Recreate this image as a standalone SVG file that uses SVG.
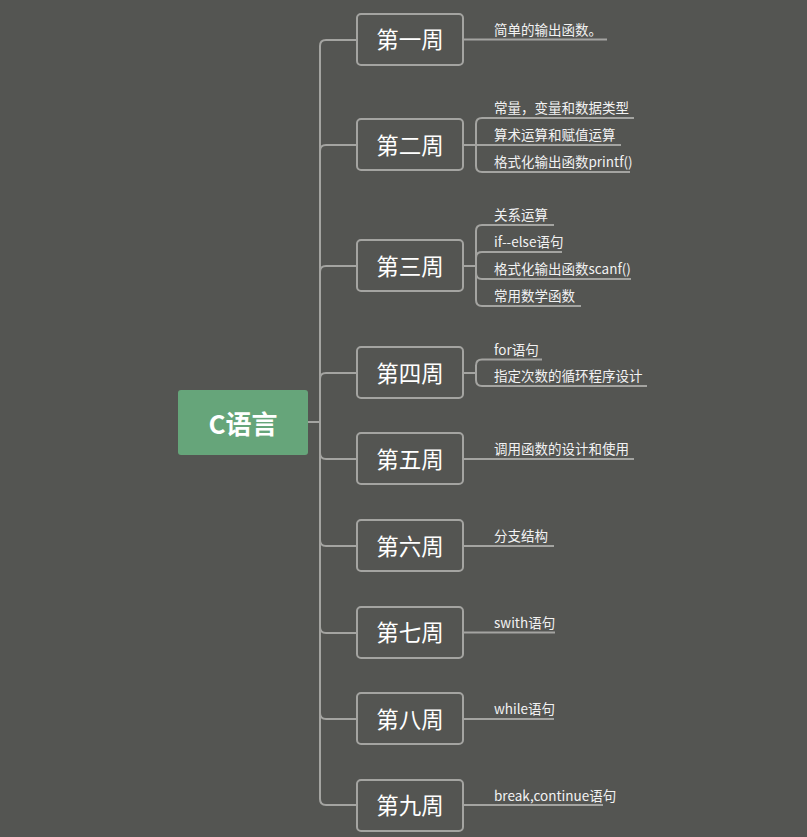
<svg xmlns="http://www.w3.org/2000/svg" width="807" height="837" viewBox="0 0 807 837">
<style>
.bg{fill:#545552}
.root rect{fill:#66a57a}
.root text{font-family:"Noto Sans CJK SC","Noto Sans",sans-serif;font-size:26px;font-weight:bold;fill:#ffffff;text-anchor:middle;dominant-baseline:central}
.node rect{fill:#545552;stroke:#a4a4a1;stroke-width:2}
.node text{font-family:"Noto Sans CJK SC","Noto Sans",sans-serif;font-size:22.5px;fill:#ffffff;text-anchor:middle;dominant-baseline:central}
.leaf text{font-family:"Noto Sans CJK SC","Noto Sans",sans-serif;font-size:13.5px;fill:#f2f2f2;dominant-baseline:central}
.conn path{fill:none;stroke:#a4a4a1;stroke-width:2}
</style>
<rect class="bg" x="0" y="0" width="807" height="837"/>
<g class="conn" id="connectors">
<path d="M308,422 H320 V46 Q320,40 326,40 H357"/>
<path d="M320,151 Q320,145 326,145 H357"/>
<path d="M320,272 Q320,266 326,266 H357"/>
<path d="M320,379 Q320,373 326,373 H357"/>
<path d="M308,422 H320 V799 Q320,805 326,805 H357"/>
<path d="M320,453 Q320,459 326,459 H357"/>
<path d="M320,540 Q320,546 326,546 H357"/>
<path d="M320,627 Q320,633 326,633 H357"/>
<path d="M320,713 Q320,719 326,719 H357"/>
<path d="M463,39.5 H607"/>
<path d="M463,145 H476 V124 Q476,118 482,118 H634"/>
<path d="M463,145 H621"/>
<path d="M463,145 H476 V166 Q476,172 482,172 H630"/>
<path d="M463,266 H476 V231 Q476,225 482,225 H554"/>
<path d="M476,258 Q476,252 482,252 H562"/>
<path d="M476,273 Q476,279 482,279 H631"/>
<path d="M476,266 V300 Q476,306 482,306 H581"/>
<path d="M463,373 H476 V365.5 Q476,359.5 482,359.5 H542"/>
<path d="M476,373 V380 Q476,386 482,386 H647"/>
<path d="M463,459 H634"/>
<path d="M463,546 H554"/>
<path d="M463,632.5 H555"/>
<path d="M463,719 H554"/>
<path d="M463,805 H603"/>
</g>
<g class="root" id="root"><rect x="178" y="390" width="130" height="65" rx="3"/><text x="243" y="422">C语言</text></g>
<g class="node" id="w1"><rect x="357" y="14" width="106" height="51" rx="4"/><text x="410" y="38">第一周</text></g>
<g class="node" id="w2"><rect x="357" y="119" width="106" height="51" rx="4"/><text x="410" y="143.5">第二周</text></g>
<g class="node" id="w3"><rect x="357" y="240" width="106" height="51" rx="4"/><text x="410" y="264.5">第三周</text></g>
<g class="node" id="w4"><rect x="357" y="347" width="106" height="51" rx="4"/><text x="410" y="371.5">第四周</text></g>
<g class="node" id="w5"><rect x="357" y="433" width="106" height="51" rx="4"/><text x="410" y="457.5">第五周</text></g>
<g class="node" id="w6"><rect x="357" y="520" width="106" height="51" rx="4"/><text x="410" y="544.5">第六周</text></g>
<g class="node" id="w7"><rect x="357" y="607" width="106" height="51" rx="4"/><text x="410" y="631">第七周</text></g>
<g class="node" id="w8"><rect x="357" y="693" width="106" height="51" rx="4"/><text x="410" y="717.5">第八周</text></g>
<g class="node" id="w9"><rect x="357" y="780" width="106" height="51" rx="4"/><text x="410" y="804">第九周</text></g>
<g class="leaf" id="leaves">
<text x="494" y="28.5">简单的输出函数。</text>
<text x="494" y="107">常量，变量和数据类型</text>
<text x="494" y="134">算术运算和赋值运算</text>
<text x="494" y="161">格式化输出函数printf()</text>
<text x="494" y="214">关系运算</text>
<text x="494" y="241">if--else语句</text>
<text x="494" y="268">格式化输出函数scanf()</text>
<text x="494" y="295">常用数学函数</text>
<text x="494" y="348.5">for语句</text>
<text x="494" y="375">指定次数的循环程序设计</text>
<text x="494" y="448">调用函数的设计和使用</text>
<text x="494" y="535">分支结构</text>
<text x="494" y="621.5">swith语句</text>
<text x="494" y="708">while语句</text>
<text x="494" y="794.5">break,continue语句</text>
</g>
</svg>
